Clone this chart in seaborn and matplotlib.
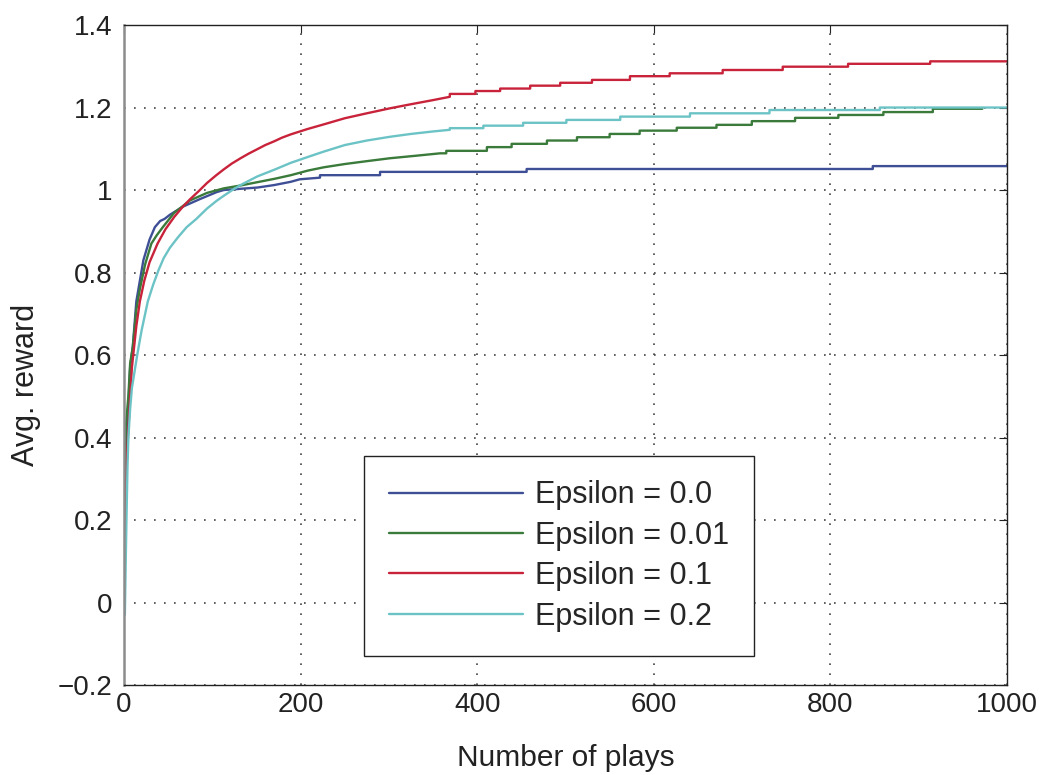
import matplotlib
matplotlib.use("Agg")
import matplotlib.pyplot as plt
import seaborn as sns
import pandas as pd

# Average reward of an epsilon-greedy bandit player versus number of plays
labels = ["Epsilon = 0.0", "Epsilon = 0.01", "Epsilon = 0.1", "Epsilon = 0.2"]

plays_eps00 = [1, 2, 3, 5, 7, 10, 14, 18, 22, 29, 35, 41, 46, 52, 67, 86, 105, 113, 151,
               170, 189, 199, 222, 222, 290, 290, 456, 456, 848, 848, 1000]
reward_eps00 = [0.15, 0.32, 0.40, 0.48, 0.57, 0.62, 0.73, 0.78, 0.83, 0.88, 0.91, 0.925,
                0.93, 0.94, 0.96, 0.978, 0.995, 1.0, 1.006, 1.012, 1.020, 1.026, 1.030,
                1.036, 1.036, 1.044, 1.044, 1.051, 1.051, 1.058, 1.058]

plays_eps001 = [1, 2, 3, 5, 7, 10, 14, 18, 24, 31, 37, 44, 57, 75, 94, 113, 132, 151, 170,
                189, 208, 226, 250, 275, 301, 330, 358,
                365, 365, 411, 411, 439, 439, 479, 479, 513, 513, 550, 550, 584, 584,
                626, 626, 671, 671, 711, 711, 760, 760, 809, 809, 860, 860, 916, 916, 972]
reward_eps001 = [0.20, 0.42, 0.45, 0.50, 0.58, 0.62, 0.71, 0.76, 0.82, 0.87, 0.89, 0.91,
                 0.945, 0.975, 0.993, 1.004, 1.011, 1.019, 1.027, 1.036, 1.047, 1.055,
                 1.063, 1.070, 1.077, 1.083, 1.089,
                 1.089, 1.095, 1.095, 1.104, 1.104, 1.112, 1.112, 1.120, 1.120, 1.128,
                 1.128, 1.136, 1.136, 1.144, 1.144, 1.151, 1.151, 1.158, 1.158, 1.167,
                 1.167, 1.175, 1.175, 1.182, 1.182, 1.189, 1.189, 1.197, 1.197]

plays_eps01 = [1, 2, 3, 4, 5, 7, 9, 11, 14, 18, 23, 29, 38, 47, 57, 66, 75, 85, 94, 104,
               113, 122, 132, 141, 151, 160, 170, 179, 189, 208, 226, 250, 275, 301, 325,
               350, 369,
               369, 398, 398, 426, 426, 460, 460, 494, 494, 530, 530, 573, 573, 618, 618,
               678, 678, 746, 746, 820, 820, 913, 913, 1000]
reward_eps01 = [0.19, 0.27, 0.33, 0.38, 0.42, 0.50, 0.57, 0.61, 0.67, 0.73, 0.78, 0.825,
                0.87, 0.905, 0.935, 0.958, 0.978, 0.998, 1.017, 1.035, 1.05, 1.064, 1.077,
                1.088, 1.099, 1.109, 1.118, 1.127, 1.135, 1.148, 1.159, 1.174, 1.186,
                1.198, 1.208, 1.218, 1.226,
                1.233, 1.233, 1.240, 1.240, 1.246, 1.246, 1.253, 1.253, 1.260, 1.260,
                1.267, 1.267, 1.276, 1.276, 1.283, 1.283, 1.291, 1.291, 1.299, 1.299,
                1.306, 1.306, 1.312, 1.312]

plays_eps02 = [1, 2, 3, 4, 5, 7, 9, 12, 15, 20, 27, 33, 39, 45, 52, 61, 71, 82, 94, 105,
               113, 122, 132, 151, 170, 189, 208, 226, 250, 275, 301, 325, 350, 369,
               369, 407, 407, 452, 452, 501, 501, 562, 562, 641, 641, 731, 731,
               856, 856, 1000]
reward_eps02 = [-0.03, 0.10, 0.22, 0.33, 0.40, 0.47, 0.52, 0.56, 0.60, 0.66, 0.73, 0.77,
                0.805, 0.835, 0.86, 0.885, 0.91, 0.93, 0.955, 0.974, 0.986, 0.999, 1.012,
                1.033, 1.049, 1.066, 1.080, 1.093, 1.109, 1.120, 1.129, 1.136, 1.142,
                1.146, 1.150, 1.150, 1.156, 1.156, 1.163, 1.163, 1.170, 1.170,
                1.178, 1.178, 1.186, 1.186, 1.194, 1.194, 1.200, 1.200]

x_ticks = [0, 200, 400, 600, 800, 1000]
y_ticks = [-0.2, 0, 0.2, 0.4, 0.6, 0.8, 1.0, 1.2, 1.4]
y_ticklabels = ["\u22120.2", "0", "0.2", "0.4", "0.6", "0.8", "1", "1.2", "1.4"]

series = [(labels[0], plays_eps00, reward_eps00),
          (labels[1], plays_eps001, reward_eps001),
          (labels[2], plays_eps01, reward_eps01),
          (labels[3], plays_eps02, reward_eps02)]
frames = []
for name, xs, ys in series:
    frames.append(pd.DataFrame({"plays": xs, "reward": ys, "run": name}))
df = pd.concat(frames, ignore_index=True)

palette = {labels[0]: "#3f4f96", labels[1]: "#3a7a3a",
           labels[2]: "#c8233a", labels[3]: "#6cc3c6"}

sns.set_theme(style="white")
plt.rcParams["font.family"] = ["Liberation Sans", "DejaVu Sans"]

fig = plt.figure(figsize=(10.47, 7.75), dpi=100)
ax = fig.add_axes([0.1184, 0.1161, 0.8434, 0.8516])

sns.lineplot(data=df, x="plays", y="reward", hue="run", palette=palette,
             estimator=None, sort=False, units="run", linewidth=1.7, ax=ax)

ax.set_xlim(0, 1000)
ax.set_ylim(-0.2, 1.4)
ax.set_xticks(x_ticks)
ax.set_xticklabels([str(t) for t in x_ticks])
ax.set_yticks(y_ticks)
ax.set_yticklabels(y_ticklabels)
ax.tick_params(direction="in", top=True, right=True, length=6, width=0.8,
               labelsize=20, colors="#222222")
ax.tick_params(axis="x", pad=5)
ax.tick_params(axis="y", pad=8)

ax.grid(True, color="#444444", linestyle=(0, (1, 5)), linewidth=1.2)
for side in ["right", "top", "bottom"]:
    ax.spines[side].set_color("#222222")
    ax.spines[side].set_linewidth(1.0)
    ax.spines[side].set_visible(True)
ax.spines["left"].set_visible(True)
ax.spines["left"].set_color("#8c8c8c")
ax.spines["left"].set_linewidth(1.8)

ax.set_xlabel("Number of plays", fontsize=21.5, color="#222222")
ax.set_ylabel("Avg. reward", fontsize=22, color="#222222")
ax.xaxis.set_label_coords(0.5, -0.089)
ax.yaxis.set_label_coords(-0.094, 0.4545)

leg = ax.legend(loc="lower left", bbox_to_anchor=(0.272, 0.044), fontsize=22,
                frameon=True, fancybox=False, framealpha=1, edgecolor="#222222",
                handlelength=4.4, handletextpad=0.4, labelspacing=0.34,
                borderpad=0.8, borderaxespad=0)
leg.get_frame().set_linewidth(1.0)
for line in leg.get_lines():
    line.set_linewidth(1.7)

fig.savefig("out.png", dpi=100)
